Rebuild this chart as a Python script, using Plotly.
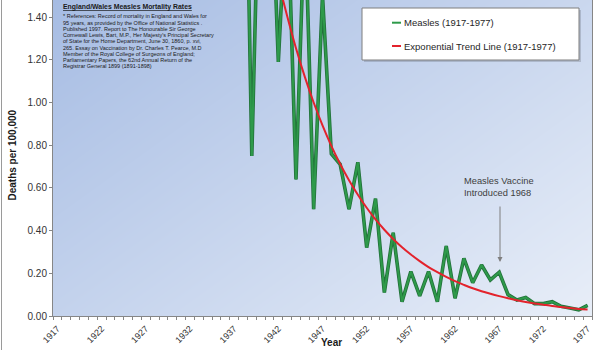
import plotly.graph_objects as go

# ---------------- data ----------------
years = list(range(1917, 1978))
# Deaths per 100,000 (values before 1939 lie above the visible range)
measles = [28.0, 22.0, 14.0, 24.0, 12.0, 18.0, 10.0, 15.0, 9.0, 13.0,
           7.0, 10.0, 6.0, 8.0, 5.0, 7.0, 4.0, 6.0, 3.5, 4.5,
           3.2, 3.0,
           0.75, 2.4, 2.3, 1.19, 2.0, 0.64, 1.9, 0.50, 1.50, 0.76, 0.71,
           0.50, 0.72, 0.32, 0.55, 0.11, 0.39, 0.067, 0.208, 0.094, 0.208,
           0.067, 0.328, 0.083, 0.27, 0.156, 0.239, 0.169, 0.205, 0.10, 0.075,
           0.087, 0.058, 0.058, 0.067, 0.045, 0.037, 0.029, 0.05]
trend = [26.7, 23.9, 21.3, 19.0, 17.0, 15.2, 13.5, 12.1, 10.8, 9.64,
         8.61, 7.69, 6.86, 6.13, 5.47, 4.88, 4.36, 3.90, 3.48, 3.10,
         2.77, 2.48, 2.21, 1.97, 1.76, 1.57, 1.405, 1.254, 1.120, 1.000,
         0.893, 0.797, 0.712, 0.636, 0.568, 0.507, 0.452, 0.404, 0.361, 0.322,
         0.288, 0.257, 0.229, 0.205, 0.183, 0.163, 0.146, 0.130, 0.116, 0.104,
         0.093, 0.083, 0.074, 0.066, 0.059, 0.053, 0.047, 0.042, 0.037, 0.033, 0.030]
label_years = list(range(1917, 1978, 5))
y_ticks = [0.0, 0.2, 0.4, 0.6, 0.8, 1.0, 1.2, 1.4]

series_names = ["Measles (1917-1977)", "Exponential Trend Line (1917-1977)"]
title_text = "England/Wales Measles Mortality Rates"
ref_lines = [
    "* References: Record of mortality in England and Wales for",
    "95 years, as provided by the Office of National Statistics .",
    "Published 1997. Report to The Honourable Sir George",
    "Cornewall Lewis, Bart, M.P., Her Majesty's Principal Secretary",
    "of State for the Home Department, June 30, 1860, p. xvi,",
    "265. Essay on Vaccination by Dr. Charles T. Pearce, M.D",
    "Member of the Royal College of Surgeons of England;",
    "Parliamentary Papers, the 62nd Annual Return of the",
    "Registrar General 1899 (1891-1898)",
]
vaccine_note = "Measles Vaccine<br>Introduced 1968"

# ---------------- style ----------------
FONT = "Liberation Sans, Arial, sans-serif"
W, H = 600, 350
L, R, T, B = 53, 592, 0, 316
GREEN = "#2e9a4a"
GREEN_DARK = "#22703a"
RED = "#e3232c"
AXIS = "#868686"
TXT = "#333333"


def px(x):
    return (x - L) / (R - L)


def py(y):
    return (B - y) / (B - T)


fig = go.Figure()

# background gradient of the plot area
fig.add_trace(go.Heatmap(
    x=[1916.5, 1977.5], y=[0, 1.48],
    z=[[0.45, 1.0], [0.0, 0.55]],
    colorscale=[[0, "#a6bce3"], [1, "#e8eef8"]],
    zsmooth="best", showscale=False, hoverinfo="skip", zmin=0, zmax=1))

fig.add_trace(go.Scatter(x=years, y=measles, mode="lines", name=series_names[0],
                         line=dict(color=GREEN_DARK, width=3.6), showlegend=False,
                         hoverinfo="skip"))
fig.add_trace(go.Scatter(x=years, y=measles, mode="lines", name=series_names[0],
                         line=dict(color=GREEN, width=2), showlegend=False))
fig.add_trace(go.Scatter(x=years, y=trend, mode="lines", name=series_names[1],
                         line=dict(color=RED, width=2, shape="spline"), showlegend=False))

fig.update_layout(
    width=W, height=H, autosize=False,
    margin=dict(l=L, r=W - R, t=T, b=H - B, pad=0),
    paper_bgcolor="white", plot_bgcolor="white",
    font=dict(family=FONT, color=TXT, size=9),
    showlegend=False,
)
fig.update_xaxes(
    range=[1916.5, 1977.5], tickmode="array", tickvals=label_years,
    ticktext=[str(v) for v in label_years], tickangle=-45,
    ticks="outside", ticklen=3, tickcolor="rgba(0,0,0,0)",
    minor=dict(tickmode="array", tickvals=[y - 0.5 for y in years] + [1977.5],
               ticks="outside", ticklen=3, tickcolor=AXIS, showgrid=False),
    showline=True, linecolor=AXIS, linewidth=1, showgrid=False, zeroline=False,
    tickfont=dict(size=9, color=TXT), automargin=False, fixedrange=True)
fig.update_yaxes(
    range=[0, 1.48], tickmode="array", tickvals=y_ticks, tickformat=".2f",
    ticks="outside", ticklen=3, tickcolor=AXIS,
    showline=True, linecolor=AXIS, linewidth=1, mirror=True,
    showgrid=False, zeroline=False, tickfont=dict(size=10, color=TXT),
    automargin=False, fixedrange=True)

shapes = []
# outer chart border on the left
shapes.append(dict(type="line", xref="paper", yref="paper", x0=px(1.5), x1=px(1.5),
                   y0=py(H), y1=py(0), line=dict(color="#9a9a9a", width=1)))
# legend box (shadow + box)
shapes.append(dict(type="rect", xref="paper", yref="paper", x0=px(364), x1=px(581),
                   y0=py(62), y1=py(10), fillcolor="rgba(0,0,0,0.15)", line=dict(width=0)))
shapes.append(dict(type="rect", xref="paper", yref="paper", x0=px(362), x1=px(579),
                   y0=py(60), y1=py(8), fillcolor="white", line=dict(color="#7f7f7f", width=1)))
shapes.append(dict(type="line", xref="paper", yref="paper", x0=px(392), x1=px(401),
                   y0=py(22.7), y1=py(22.7), line=dict(color=GREEN, width=2)))
shapes.append(dict(type="line", xref="paper", yref="paper", x0=px(392), x1=px(401),
                   y0=py(46), y1=py(46), line=dict(color=RED, width=2)))
fig.update_layout(shapes=shapes)

ann = []
ann.append(dict(text=series_names[0], xref="paper", yref="paper", x=px(401.5), y=py(22.7),
                xanchor="left", yanchor="middle", showarrow=False,
                font=dict(size=9.5, color="#262626", family=FONT)))
ann.append(dict(text=series_names[1], xref="paper", yref="paper", x=px(401.5), y=py(46),
                xanchor="left", yanchor="middle", showarrow=False,
                font=dict(size=9.5, color="#262626", family=FONT)))
# title block
ann.append(dict(text="<b><u>" + title_text + "</u></b>", xref="paper", yref="paper",
                x=px(60.5), y=py(7.3), xanchor="left", yanchor="middle", showarrow=False,
                font=dict(size=6.9, color="#1a1a1a", family=FONT)))
for i, line in enumerate(ref_lines):
    ann.append(dict(text=line, xref="paper", yref="paper", x=px(60.5), y=py(16.5 + 6.2 * i),
                    xanchor="left", yanchor="middle", showarrow=False,
                    font=dict(size=5.5, color="#1a1a1a", family=FONT)))
# vaccine note and arrow
ann.append(dict(text=vaccine_note, xref="paper", yref="paper", x=px(462), y=py(187.2),
                xanchor="left", yanchor="middle", align="left", showarrow=False,
                font=dict(size=9.3, color="#404040", family=FONT)))
ann.append(dict(text="", xref="paper", yref="paper", x=px(500), y=py(262),
                ax=0, ay=-57, showarrow=True, arrowhead=2, arrowsize=1, arrowwidth=1,
                arrowcolor="#7f7f7f"))
# axis titles
ann.append(dict(text="<b>Deaths per 100,000</b>", xref="paper", yref="paper",
                x=px(12.5), y=py(155), textangle=-90, xanchor="center", yanchor="middle",
                showarrow=False, font=dict(size=10, color="#1a1a1a", family=FONT)))
ann.append(dict(text="<b>Year</b>", xref="paper", yref="paper", x=px(331.5), y=py(349),
                xanchor="center", yanchor="bottom", showarrow=False, borderpad=0,
                font=dict(size=10, color="#1a1a1a", family=FONT)))
fig.update_layout(annotations=ann)

fig.write_html("out.html")
